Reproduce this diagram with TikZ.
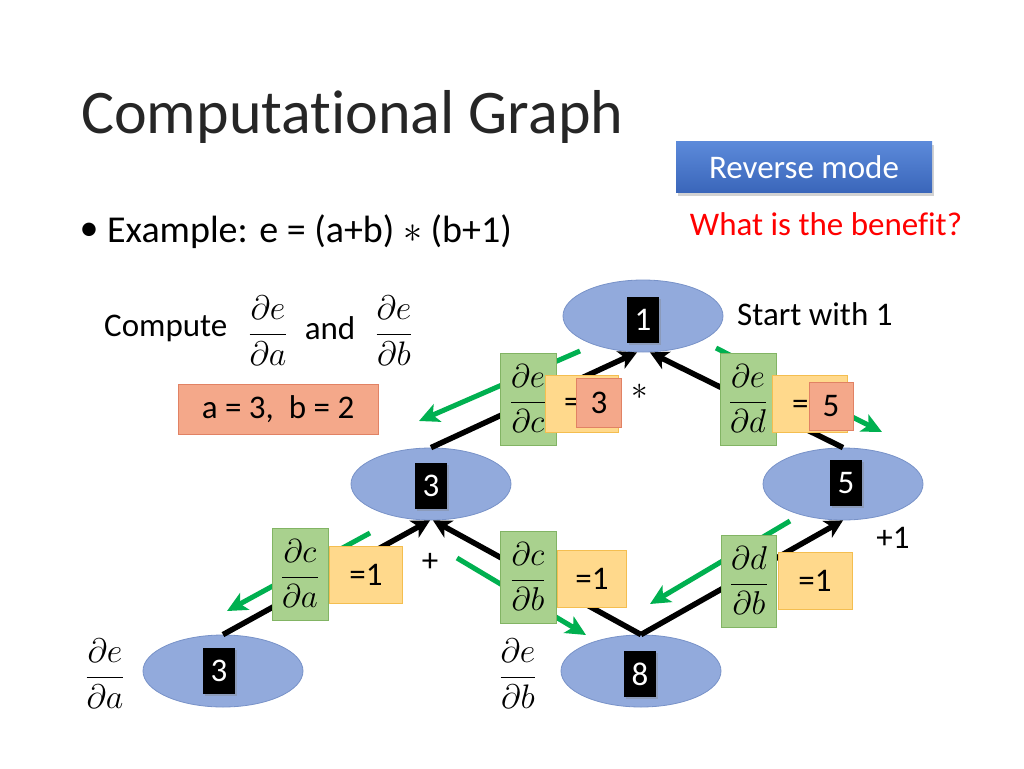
\RequirePackage{fix-cm}
\documentclass[tikz,border=0pt]{standalone}
\usepackage{amsmath}
\usepackage{fontspec}
\setmainfont{Carlito}[Ligatures=NoCommon]
\usetikzlibrary{shapes.geometric,arrows.meta,shadows}
\definecolor{nodeblue}{RGB}{146,170,220}
\definecolor{nodeborder}{RGB}{120,146,200}
\definecolor{gfill}{RGB}{169,209,142}
\definecolor{gborder}{RGB}{130,180,100}
\definecolor{yfill}{RGB}{255,217,140}
\definecolor{yborder}{RGB}{244,190,80}
\definecolor{sfill}{RGB}{244,168,138}
\definecolor{sborder}{RGB}{225,130,100}
\definecolor{arrowgreen}{RGB}{0,176,80}
\definecolor{titlegray}{RGB}{38,38,38}
\definecolor{revtop}{RGB}{92,138,218}
\definecolor{revbot}{RGB}{58,102,186}
\definecolor{benefitred}{RGB}{255,0,0}
\begin{document}
\begin{tikzpicture}[x=1pt,y=-1pt,
  graphnode/.style={ellipse, fill=nodeblue, draw=nodeborder, line width=0.8pt,
    minimum width=160pt, minimum height=72pt, inner sep=0pt},
  numbox/.style={fill=black, text=white, minimum width=32pt, minimum height=46pt,
    inner sep=0pt, font=\fontsize{33}{36}\selectfont,
    drop shadow={opacity=0.35, shadow xshift=2pt, shadow yshift=-2pt}},
  blackedge/.style={line width=5.5pt, draw=black,
    -{Stealth[length=18pt,width=19pt,inset=5pt]}},
  greenarrow/.style={line width=5pt, draw=arrowgreen,
    -{Stealth[length=20pt,width=19pt,inset=5pt]}},
  gbox/.style={fill=gfill, draw=gborder, line width=0.8pt, minimum width=56pt,
    minimum height=92pt, inner sep=0pt, font=\fontsize{33}{40}\selectfont},
  ybox/.style={fill=yfill, draw=yborder, line width=0.8pt, minimum width=73pt,
    minimum height=57pt, inner sep=0pt, font=\fontsize{33}{36}\selectfont},
  sbox/.style={fill=sfill, draw=sborder, line width=0.8pt, inner sep=0pt,
    font=\fontsize{33}{36}\selectfont},
  txt/.style={inner sep=0pt, font=\fontsize{33}{36}\selectfont},
  frac/.style={inner sep=0pt, font=\fontsize{34}{40}\selectfont}
]
\useasboundingbox (0,0) rectangle (1024,768);
\fill[white] (0,0) rectangle (1024,768);

% title and header
\node[anchor=base west, inner sep=0pt, text=titlegray,
  font=\fontsize{62}{68}\selectfont] (title) at (81,133) {Computational Graph};
\node[fill=revbot, top color=revtop, bottom color=revbot, text=white,
  minimum width=256pt, minimum height=51pt, inner sep=0pt,
  font=\fontsize{33}{36}\selectfont,
  drop shadow={opacity=0.35, shadow xshift=2pt, shadow yshift=-3pt}]
  (rev) at (804,167) {Reverse mode};
\node[txt, text=benefitred] (benefit) at (826,224) {What is the benefit?};
\node[txt, font=\fontsize{38}{42}\selectfont] (bullet) at (89,232) {•};
\node[txt, anchor=west, font=\fontsize{38}{42}\selectfont] (example) at (107,232)
  {Example: e = (a+b) $\ast$ (b+1)};

% compute row
\node[txt, anchor=west] (compute) at (104,328) {Compute};
\node[frac] (fa) at (268,331) {$\dfrac{\partial e}{\partial a}$};
\node[txt] (and) at (330,328) {and};
\node[frac] (fb) at (394,331) {$\dfrac{\partial e}{\partial b}$};
\node[sbox, minimum width=200pt, minimum height=50pt] (ab) at (278,409)
  {a = 3,\ \ b = 2};

% graph nodes
\node[graphnode] (e) at (643,316) {};
\node[graphnode] (c) at (431,484) {};
\node[graphnode] (d) at (843,484) {};
\node[graphnode] (a) at (223,671) {};
\node[graphnode] (b) at (641,671) {};
\node[numbox] (ev) at (643,320) {1};
\node[numbox] (cv) at (431,486) {3};
\node[numbox] (dv) at (846,483) {5};
\node[numbox] (av) at (219,671) {3};
\node[numbox] (bv) at (640,674) {8};

% forward edges
\draw[blackedge] (a.north) -- ([xshift=-1pt]c.south);
\draw[blackedge] (b.north) -- ([xshift=2pt]c.south);
\draw[blackedge] (b.north) -- (d.south);
\draw[blackedge] (c.north) -- ([xshift=-6pt]e.south);
\draw[blackedge] (d.north) -- ([xshift=7pt]e.south);

% backward (green) arrows
\coordinate (g1s) at (580,351);
\coordinate (g1e) at (419,421);
\coordinate (g2s) at (716,348);
\coordinate (g2e) at (882,432);
\coordinate (g3s) at (370,533);
\coordinate (g3e) at (227,611);
\coordinate (g4s) at (457,558);
\coordinate (g4e) at (586,635);
\coordinate (g5s) at (790,521);
\coordinate (g5e) at (650,604);
\draw[greenarrow] (g1s) -- (g1e);
\draw[greenarrow] (g2s) -- (g2e);
\draw[greenarrow] (g3s) -- (g3e);
\draw[greenarrow] (g4s) -- (g4e);
\draw[greenarrow] (g5s) -- (g5e);

% labels on edges
\node[gbox] (dedc) at (528,399) {$\dfrac{\partial e}{\partial c}$};
\node[ybox] (yc) at (582,404) {};
\node[txt, anchor=west] (eqc) at (564,405) {=};
\node[sbox, minimum width=45pt, minimum height=49pt] (s3) at (599,403) {3};
\node[txt] (mul) at (640,392) {$\ast$};

\node[gbox] (dedd) at (748,399) {$\dfrac{\partial e}{\partial d}$};
\node[ybox, minimum width=75pt] (yd) at (810,404) {};
\node[txt, anchor=west] (eqd) at (792,407) {=};
\node[sbox, minimum width=44pt, minimum height=48pt] (s5) at (831,406) {5};

\node[gbox] (dcda) at (300,574) {$\dfrac{\partial c}{\partial a}$};
\node[ybox] (y1) at (366,575) {=1};
\node[txt] (plus) at (430,562) {+};

\node[gbox] (dcdb) at (528,577) {$\dfrac{\partial c}{\partial b}$};
\node[ybox, minimum width=69pt] (y2) at (592,579) {=1};

\node[gbox, minimum width=55pt] (dddb) at (749,581) {$\dfrac{\partial d}{\partial b}$};
\node[ybox, minimum width=74pt] (y3) at (815,581) {=1};
\node[txt] (plusone) at (893,538) {+1};

\node[txt, anchor=west] (start) at (737,314) {Start with 1};

% bottom derivative labels
\node[frac] (fda) at (105,674) {$\dfrac{\partial e}{\partial a}$};
\node[frac] (fdb) at (518,674) {$\dfrac{\partial e}{\partial b}$};
\end{tikzpicture}
\end{document}
